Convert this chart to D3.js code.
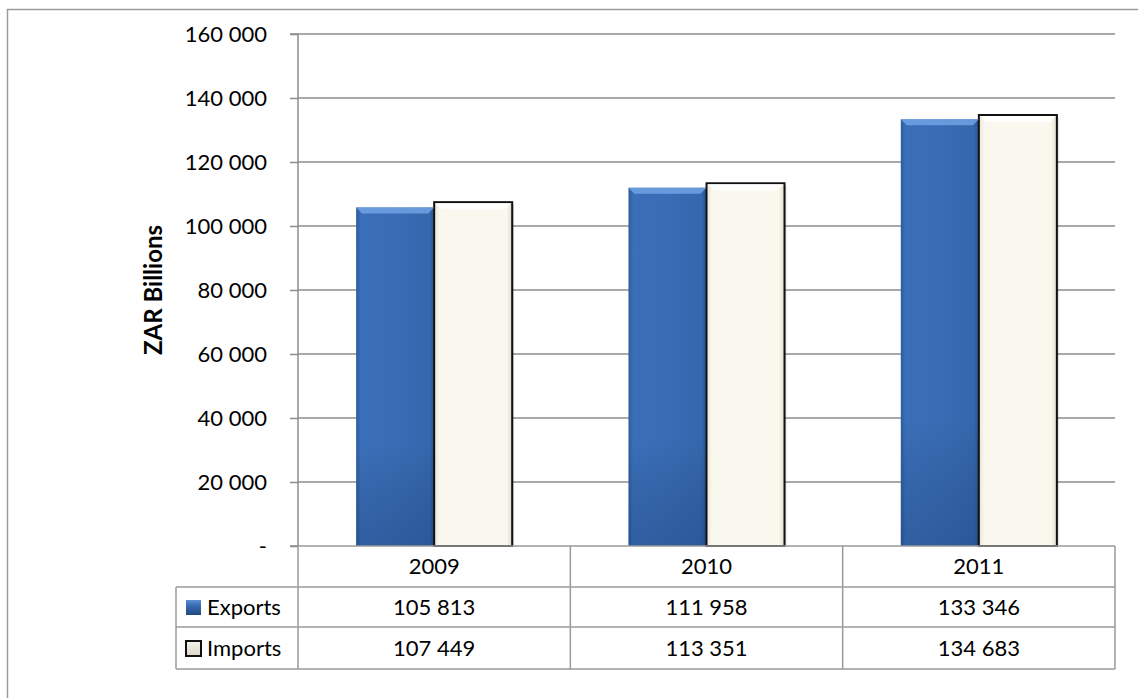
<!DOCTYPE html>
<html>
<head>
<meta charset="utf-8">
<script src="https://cdn.jsdelivr.net/npm/d3@7"></script>
<style>
  html, body { margin: 0; padding: 0; background: #fff; }
  svg { display: block; font-family: Lato, "Open Sans", sans-serif; }
</style>
</head>
<body>
<svg id="chart" width="1138" height="698"></svg>
<script>
const categories = ["2009", "2010", "2011"];
const seriesNames = ["Exports", "Imports"];
const exportsValues = [105813, 111958, 133346];
const importsValues = [107449, 113351, 134683];
const yTicks = [0, 20000, 40000, 60000, 80000, 100000, 120000, 140000, 160000];
const yLabel = "ZAR Billions";

const seriesValues = [exportsValues, importsValues];
const FS = 22;
const svg = d3.select("#chart");
const defs = svg.append("defs");

function hGrad(id, stops) {
  const g = defs.append("linearGradient").attr("id", id).attr("x1", "0").attr("x2", "1").attr("y1", "0").attr("y2", "0");
  stops.forEach(s => g.append("stop").attr("offset", s[0]).attr("stop-color", s[1]));
}
function vGrad(id, stops) {
  const g = defs.append("linearGradient").attr("id", id).attr("x1", "0").attr("x2", "0").attr("y1", "0").attr("y2", "1");
  stops.forEach(s => g.append("stop").attr("offset", s[0]).attr("stop-color", s[1]));
}
hGrad("gBlue", [[0, "#2d5c9c"], [0.06, "#3a6fb9"], [0.5, "#386cb4"], [0.94, "#3467ad"], [1, "#28528d"]]);
vGrad("gBlueV", [[0, "rgba(255,255,255,0)"], [0.7, "rgba(0,0,0,0)"], [1, "rgba(0,20,60,0.18)"]]);
hGrad("gCream", [[0, "#e6e2d4"], [0.07, "#faf8ee"], [0.93, "#faf8ee"], [1, "#dedacb"]]);
vGrad("gKeyBlue", [[0, "#5d8fd6"], [0.35, "#3a6db5"], [1, "#22477f"]]);
vGrad("gKeyCream", [[0, "#f7f5ea"], [1, "#d9d5c6"]]);

const margin = { left: 298, right: 1115, top: 34, bottom: 546 };

const x = d3.scaleBand().domain(categories).range([margin.left, margin.right]).paddingInner(0).paddingOuter(0);
const y = d3.scaleLinear().domain([0, 160000]).range([margin.bottom, margin.top]);
const inner = d3.scaleBand().domain(seriesNames).range([0, x.bandwidth()]).paddingInner(0).paddingOuter(0.745);

const fmt = v => v === 0 ? "-" : d3.format(",")(v).replace(/,/g, " ");

svg.append("path").attr("d", "M7.5,698 V9.5 H1138")
  .attr("fill", "none").attr("stroke", "#9a9a9a").attr("stroke-width", 1.5);

svg.append("g").selectAll("line").data(yTicks.filter(d => d > 0)).join("line")
  .attr("x1", margin.left).attr("x2", margin.right)
  .attr("y1", d => y(d)).attr("y2", d => y(d))
  .attr("stroke", "#8c8c8c").attr("stroke-width", 1.5);

const yAxis = d3.axisLeft(y).tickValues(yTicks).tickFormat(fmt).tickSize(8).tickPadding(23);
const ya = svg.append("g").attr("transform", `translate(${margin.left},0)`).call(yAxis);
ya.select(".domain").attr("stroke", "#8c8c8c").attr("stroke-width", 1.5).attr("d", `M-8,${margin.top}H0V${margin.bottom}H-8`);
ya.selectAll(".tick line").attr("stroke", "#8c8c8c").attr("stroke-width", 1.5);
ya.selectAll(".tick text").attr("font-size", FS).attr("fill", "#000").attr("font-family", "Lato, sans-serif");

svg.append("text").attr("transform", `translate(162,${(margin.top + margin.bottom) / 2}) rotate(-90)`)
  .attr("text-anchor", "middle").attr("font-weight", "bold").attr("font-size", 24).text(yLabel);

const barData = [];
categories.forEach((c, i) => seriesNames.forEach((s, j) => barData.push({ c, s, j, v: seriesValues[j][i] })));

const bars = svg.append("g");
bars.selectAll("rect.shadow").data(barData).join("rect").attr("class", "shadow")
  .attr("x", d => x(d.c) + inner(d.s) + 2).attr("y", d => y(d.v) + 2)
  .attr("width", inner.bandwidth()).attr("height", d => y(0) - y(d.v) - 2)
  .attr("fill", "rgba(0,0,0,0.12)");
bars.selectAll("rect.bar").data(barData).join("rect").attr("class", "bar")
  .attr("x", d => x(d.c) + inner(d.s)).attr("y", d => y(d.v))
  .attr("width", inner.bandwidth()).attr("height", d => y(0) - y(d.v))
  .attr("fill", d => d.j === 0 ? "url(#gBlue)" : "url(#gCream)")
  .attr("stroke", d => d.j === 0 ? "none" : "#111")
  .attr("stroke-width", 2);
bars.selectAll("rect.shade").data(barData.filter(d => d.j === 0)).join("rect").attr("class", "shade")
  .attr("x", d => x(d.c) + inner(d.s)).attr("y", d => y(d.v))
  .attr("width", inner.bandwidth()).attr("height", d => y(0) - y(d.v))
  .attr("fill", "url(#gBlueV)");
bars.selectAll("path.bevel").data(barData).join("path").attr("class", "bevel")
  .attr("d", d => {
    const x0 = x(d.c) + inner(d.s) + (d.j ? 1 : 0), w = inner.bandwidth() - (d.j ? 2 : 0), y0 = y(d.v) + (d.j ? 1 : 0), b = 6;
    return `M${x0},${y0}H${x0 + w}L${x0 + w - b},${y0 + b}H${x0 + b}Z`;
  })
  .attr("fill", d => d.j === 0 ? "rgba(120,170,235,0.75)" : "rgba(255,255,255,0.9)");

const rowTops = [546, 587, 627, 669];
const tableLeft = 176;
const tg = svg.append("g");
const lineAttrs = sel => sel.attr("stroke", "#9a9a9a").attr("stroke-width", 1.5);
tg.append("line").attr("x1", margin.left).attr("x2", margin.right).attr("y1", rowTops[0]).attr("y2", rowTops[0]).call(lineAttrs);
rowTops.slice(1).forEach(t => tg.append("line").attr("x1", tableLeft).attr("x2", margin.right).attr("y1", t).attr("y2", t).call(lineAttrs));
tg.append("line").attr("x1", tableLeft).attr("x2", tableLeft).attr("y1", rowTops[1]).attr("y2", rowTops[3]).call(lineAttrs);
[margin.left].concat(categories.map(c => x(c) + x.bandwidth())).forEach(xv =>
  tg.append("line").attr("x1", xv).attr("x2", xv).attr("y1", rowTops[0]).attr("y2", rowTops[3]).call(lineAttrs));

tg.selectAll("text.cat").data(categories).join("text").attr("class", "cat")
  .attr("x", d => x(d) + x.bandwidth() / 2).attr("y", (rowTops[0] + rowTops[1]) / 2)
  .attr("dy", "0.35em").attr("text-anchor", "middle").attr("font-size", FS).text(d => d);

seriesNames.forEach((s, j) => {
  const cy = (rowTops[j + 1] + rowTops[j + 2]) / 2;
  tg.selectAll(`text.v${j}`).data(categories).join("text").attr("class", `v${j}`)
    .attr("x", d => x(d) + x.bandwidth() / 2).attr("y", cy)
    .attr("dy", "0.35em").attr("text-anchor", "middle").attr("font-size", FS)
    .text((d, i) => fmt(seriesValues[j][i]));
  tg.append("rect").attr("x", 186).attr("y", cy - 7).attr("width", 15).attr("height", 15)
    .attr("fill", j === 0 ? "url(#gKeyBlue)" : "url(#gKeyCream)")
    .attr("stroke", j === 0 ? "none" : "#111").attr("stroke-width", j === 0 ? 0 : 2);
  tg.append("text").attr("x", 207).attr("y", cy).attr("dy", "0.35em")
    .attr("font-size", FS).text(s);
});
</script>
</body>
</html>
